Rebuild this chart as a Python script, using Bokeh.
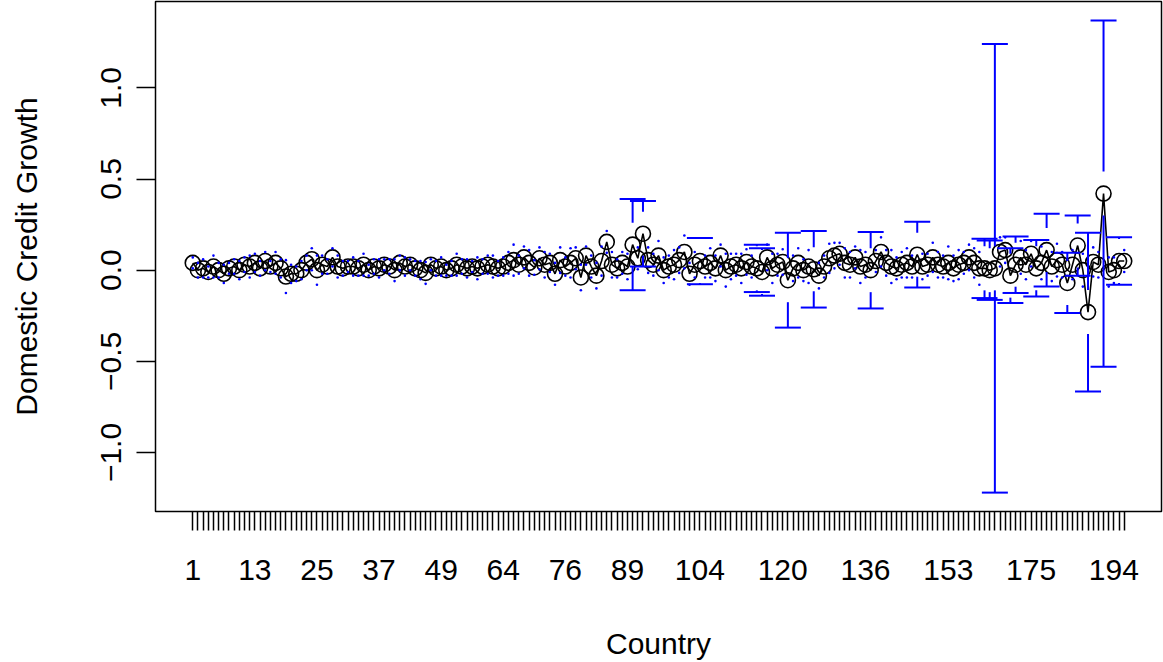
import numpy as np
from bokeh.plotting import figure
from bokeh.models import Range1d, FixedTicker
from bokeh.embed import file_html
from bokeh.resources import INLINE

# Domestic credit growth per country (point estimate) and CI half-width
growth = [
    0.04, 0.0, 0.01, -0.01, 0.02, 0.0, -0.02, 0.01, 0.02, 0.0,
    0.03, 0.02, 0.04, 0.01, 0.05, 0.02, 0.04, 0.01, -0.035, -0.02,
    -0.02, 0.0, 0.04, 0.06, 0.0, 0.03, 0.02, 0.07, 0.02, 0.01,
    0.02, 0.02, 0.01, 0.03, 0.0, 0.02, 0.01, 0.03, 0.02, 0.0,
    0.04, 0.02, 0.03, 0.01, 0.0, -0.015, 0.03, 0.01, 0.02, 0.0,
    0.01, 0.03, 0.02, 0.01, 0.02, 0.01, 0.02, 0.03, 0.02, 0.01,
    0.02, 0.04, 0.055, 0.03, 0.07, 0.04, 0.015, 0.065, 0.03, 0.04,
    -0.02, 0.055, 0.02, 0.04, 0.065, -0.04, 0.08, 0.02, -0.03, 0.05,
    0.155, 0.03, 0.01, 0.04, 0.02, 0.14, 0.065, 0.2, 0.055, 0.03,
    0.08, 0.0, 0.02, 0.03, 0.055, 0.1, -0.02, 0.03, 0.05, 0.02,
    0.04, 0.01, 0.08, 0.0, 0.02, 0.03, 0.01, 0.045, 0.02, 0.01,
    -0.01, 0.07, 0.01, 0.03, 0.045, -0.055, 0.01, 0.04, 0.0, 0.02,
    0.005, -0.03, 0.02, 0.065, 0.08, 0.09, 0.04, 0.03, 0.07, 0.02,
    0.03, 0.0, 0.05, 0.1, 0.04, 0.02, 0.01, 0.03, 0.04, 0.02,
    0.085, 0.02, 0.03, 0.07, 0.03, 0.02, 0.04, 0.01, 0.03, 0.04,
    0.07, 0.04, 0.01, 0.01, 0.0, 0.01, 0.1, 0.11, -0.03, 0.03,
    0.07, 0.03, 0.09, 0.01, 0.04, 0.11, 0.02, 0.055, 0.03, -0.07,
    0.03, 0.135, 0.0, -0.23, 0.045, 0.03, 0.42, -0.01, 0.0, 0.05, 0.05,
]
ci_half = [
    0.03, 0.04, 0.05, 0.03, 0.06, 0.04, 0.05, 0.03, 0.04, 0.05,
    0.04, 0.06, 0.05, 0.04, 0.05, 0.03, 0.06, 0.05, 0.09, 0.05,
    0.04, 0.05, 0.04, 0.06, 0.08, 0.05, 0.04, 0.05, 0.06, 0.04,
    0.03, 0.05, 0.04, 0.06, 0.03, 0.04, 0.05, 0.03, 0.04, 0.06,
    0.04, 0.05, 0.03, 0.04, 0.05, 0.06, 0.03, 0.04, 0.05, 0.03,
    0.04, 0.06, 0.04, 0.05, 0.03, 0.06, 0.04, 0.05, 0.06, 0.04,
    0.05, 0.06, 0.085, 0.05, 0.06, 0.07, 0.04, 0.06, 0.07, 0.05,
    0.06, 0.07, 0.05, 0.08, 0.06, 0.07, 0.05, 0.06, 0.07, 0.08,
    0.06, 0.07, 0.05, 0.06, 0.07, 0.25, 0.06, 0.18, 0.07, 0.06,
    0.08, 0.07, 0.06, 0.08, 0.07, 0.09, 0.06, 0.07, 0.127, 0.06,
    0.08, 0.07, 0.06, 0.09, 0.07, 0.06, 0.08, 0.07, 0.06, 0.13,
    0.13, 0.07, 0.08, 0.06, 0.07, 0.26, 0.07, 0.08, 0.06, 0.09,
    0.21, 0.07, 0.06, 0.08, 0.07, 0.06, 0.08, 0.07, 0.06, 0.09,
    0.07, 0.21, 0.06, 0.08, 0.07, 0.09, 0.06, 0.07, 0.08, 0.06,
    0.18, 0.07, 0.06, 0.08, 0.07, 0.06, 0.09, 0.07, 0.08, 0.06,
    0.07, 0.08, 0.09, 0.163, 0.163, 1.23, 0.08, 0.07, 0.15, 0.155,
    0.09, 0.08, 0.07, 0.155, 0.09, 0.2, 0.08, 0.09, 0.07, 0.165,
    0.08, 0.165, 0.09, 0.435, 0.08, 0.07, 0.95, 0.08, 0.07, 0.13, 0.06,
]

# x tick labels (country codes shown where they fit)
label_pos = [1, 13, 25, 37, 49, 61, 73, 85, 99, 115, 131, 147, 163, 179]
label_txt = ["1", "13", "25", "37", "49", "64", "76", "89", "104", "120",
             "136", "153", "175", "194"]
y_ticks = [-1.0, -0.5, 0.0, 0.5, 1.0]
y_tick_txt = ["\u22121.0", "\u22120.5", "0.0", "0.5", "1.0"]

n = len(growth)
x = np.arange(1, n + 1)
y = np.array(growth)
e = np.array(ci_half)
up = y + e
lo = y - e

ymin, ymax = lo.min(), up.max()
ypad = 0.04 * (ymax - ymin)
Y0, Y1 = ymin - ypad, ymax + ypad
xpad = 0.04 * (n - 1)

W, H = 1163, 662
ML, MR, MT, MB = 155, 2, 1, 151
FONT = "Liberation Sans"
FS = "30px"

p = figure(width=W, height=H, output_backend="svg", toolbar_location=None,
           x_range=Range1d(1 - xpad, n + xpad), y_range=Range1d(Y0, Y1),
           min_border_left=ML, min_border_right=MR, min_border_top=MT,
           min_border_bottom=MB)
p.grid.visible = False
p.background_fill_color = "white"
p.border_fill_color = "white"
p.outline_line_color = "black"
p.outline_line_width = 1.5

frame_h = H - MT - MB
gap = 22.0 * (Y1 - Y0) / frame_h

# connecting line and open circles
p.line(x, y, line_color="black", line_width=1.6)
p.scatter(x, y, marker="circle", size=15, fill_color=None,
          line_color="black", line_width=1.6)

BLUE = "#0000FF"
# upper parts
m_up = up > y + gap
p.segment(x[m_up], (y + gap)[m_up], x[m_up], up[m_up], line_color=BLUE, line_width=2)
p.scatter(x[m_up], up[m_up], marker="dash", size=26, line_color=BLUE, line_width=2)
p.scatter(x[~m_up], up[~m_up], marker="circle", size=2.6, fill_color=BLUE,
          line_color=None)
# lower parts
m_lo = lo < y - gap
p.segment(x[m_lo], (y - gap)[m_lo], x[m_lo], lo[m_lo], line_color=BLUE, line_width=2)
p.scatter(x[m_lo], lo[m_lo], marker="dash", size=26, line_color=BLUE, line_width=2)
p.scatter(x[~m_lo], lo[~m_lo], marker="circle", size=2.6, fill_color=BLUE,
          line_color=None)

# x axis: a tick for every country, labels only where they fit
xa = p.xaxis[0]
xa.ticker = FixedTicker(ticks=list(x))
overrides = {int(t): "" for t in x}
for pos, txt in zip(label_pos, label_txt):
    overrides[pos] = txt
xa.major_label_overrides = overrides
xa.axis_label = "Country"

ya = p.yaxis[0]
ya.ticker = FixedTicker(ticks=y_ticks)
ya.major_label_overrides = {t: s for t, s in zip(y_ticks, y_tick_txt)}
ya.axis_label = "Domestic Credit Growth"
ya.major_label_orientation = "vertical"

for ax in (xa, ya):
    ax.axis_line_color = None
    ax.minor_tick_line_color = None
    ax.major_tick_in = 0
    ax.major_tick_out = 19
    ax.major_tick_line_width = 1.5
    ax.major_tick_line_color = "black"
    ax.major_label_text_font = FONT
    ax.major_label_text_font_size = FS
    ax.major_label_text_color = "black"
    ax.axis_label_text_font = FONT
    ax.axis_label_text_font_size = FS
    ax.axis_label_text_font_style = "normal"
    ax.axis_label_text_color = "black"

xa.major_label_standoff = 29
xa.axis_label_standoff = 44
ya.major_label_standoff = 15
ya.axis_label_standoff = 56

open("out.html", "w").write(file_html(p, INLINE))
